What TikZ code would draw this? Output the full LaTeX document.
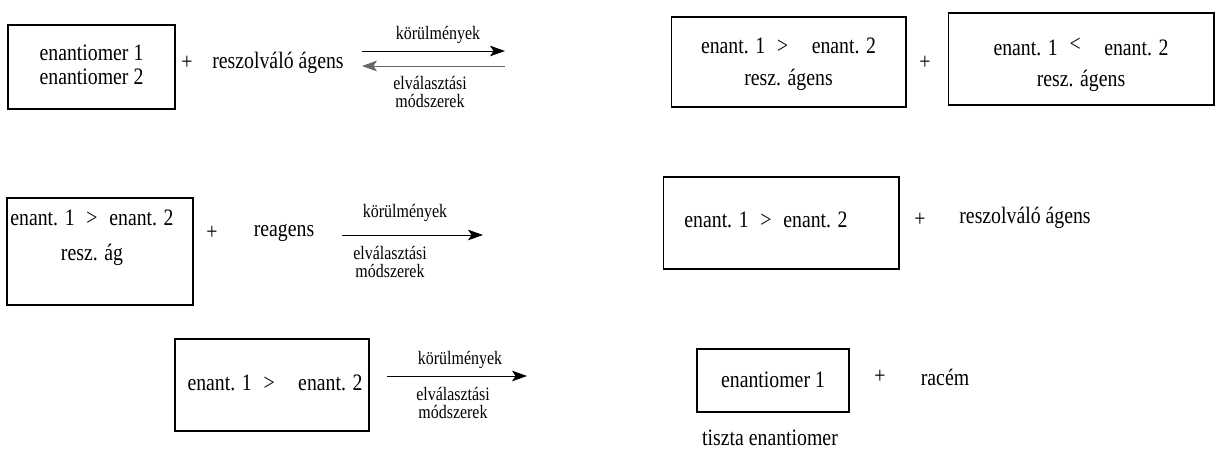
\documentclass[tikz,border=0pt]{standalone}
\usepackage{fontspec}
\setmainfont[FakeStretch=0.84]{Liberation Serif}
\usetikzlibrary{arrows.meta}
\begin{document}
\begin{tikzpicture}[x=0.02cm, y=-0.02cm,
    box/.style={draw, line width=0.6pt, inner sep=0pt},
    txt/.style={inner sep=0pt, align=center, font=\fontsize{13.4}{14}\selectfont},
    lbl/.style={inner sep=0pt, align=center, font=\fontsize{10.8}{10}\selectfont},
    rxn/.style={line width=0.5pt, -{Stealth[length=8.5pt, width=6pt, inset=2pt]}}]
    \useasboundingbox (0,0) rectangle (1216,453);
    % first row
    \node[box, minimum width=3.34cm, minimum height=1.68cm] (boxA) at (91.5,67) {};
    \node[txt] (textA) at (91.5,65) {enantiomer 1\\enantiomer 2};
    \node[txt] (plusA) at (187,63) {+};
    \node[txt] (agensA) at (278,63) {reszolváló ágens};
    \coordinate (fwdA1) at (362,51);
    \coordinate (fwdA2) at (505,51);
    \coordinate (backA1) at (505,66);
    \coordinate (backA2) at (362,66);
    \draw[rxn] (fwdA1) -- (fwdA2);
    \draw[rxn, black!60] (backA1) -- (backA2);
    \node[lbl] (condA) at (438,35) {körülmények};
    \node[lbl] (sepA) at (430,92) {elválasztási\\módszerek};
    \node[box, minimum width=4.7cm, minimum height=1.8cm] (boxB) at (788.5,62) {};
    \node[txt] (textB) at (788.5,64.5) {enant. 1\enspace>\quad enant. 2\\[4pt]resz. ágens};
    \node[txt] (plusB) at (925,63) {+};
    \node[box, minimum width=5.32cm, minimum height=1.84cm] (boxC) at (1081,59) {};
    \node[txt] (textC) at (1081,65) {enant. 1\enspace\raisebox{2pt}{<}\quad enant. 2\\[4pt]resz. ágens};
    % second row
    \node[box, minimum width=3.72cm, minimum height=2.14cm] (boxD) at (100,251.5) {};
    \node[txt] (textD) at (92,238) {enant. 1\enspace>\enspace enant. 2\\[6pt]resz. ág};
    \node[txt] (plusD) at (212,233) {+};
    \node[txt] (reag) at (284,233) {reagens};
    \coordinate (fwdD1) at (342,235);
    \coordinate (fwdD2) at (483,235);
    \draw[rxn] (fwdD1) -- (fwdD2);
    \node[lbl] (condD) at (405,213) {körülmények};
    \node[lbl] (sepD) at (390,262) {elválasztási\\módszerek};
    \node[box, minimum width=4.72cm, minimum height=1.84cm] (boxE) at (781,223) {};
    \node[txt] (textE) at (766,220) {enant. 1\enspace>\enspace enant. 2};
    \node[txt] (plusE) at (920,220) {+};
    \node[txt] (agensE) at (1025,218) {reszolváló ágens};
    % third row
    \node[box, minimum width=3.88cm, minimum height=1.84cm] (boxF) at (272,385) {};
    \node[txt] (textF) at (275,383) {enant. 1\enspace>\quad enant. 2};
    \coordinate (fwdF1) at (387,376);
    \coordinate (fwdF2) at (527,376);
    \draw[rxn] (fwdF1) -- (fwdF2);
    \node[lbl] (condF) at (460,360) {körülmények};
    \node[lbl] (sepF) at (453,403) {elválasztási\\módszerek};
    \node[box, minimum width=3.04cm, minimum height=1.26cm] (boxG) at (773,380.5) {};
    \node[txt] (textG) at (773,380) {enantiomer 1};
    \node[txt] (pure) at (770,438) {tiszta enantiomer};
    \node[txt] (plusG) at (880,377) {+};
    \node[txt] (racem) at (945,377) {racém};
\end{tikzpicture}
\end{document}
